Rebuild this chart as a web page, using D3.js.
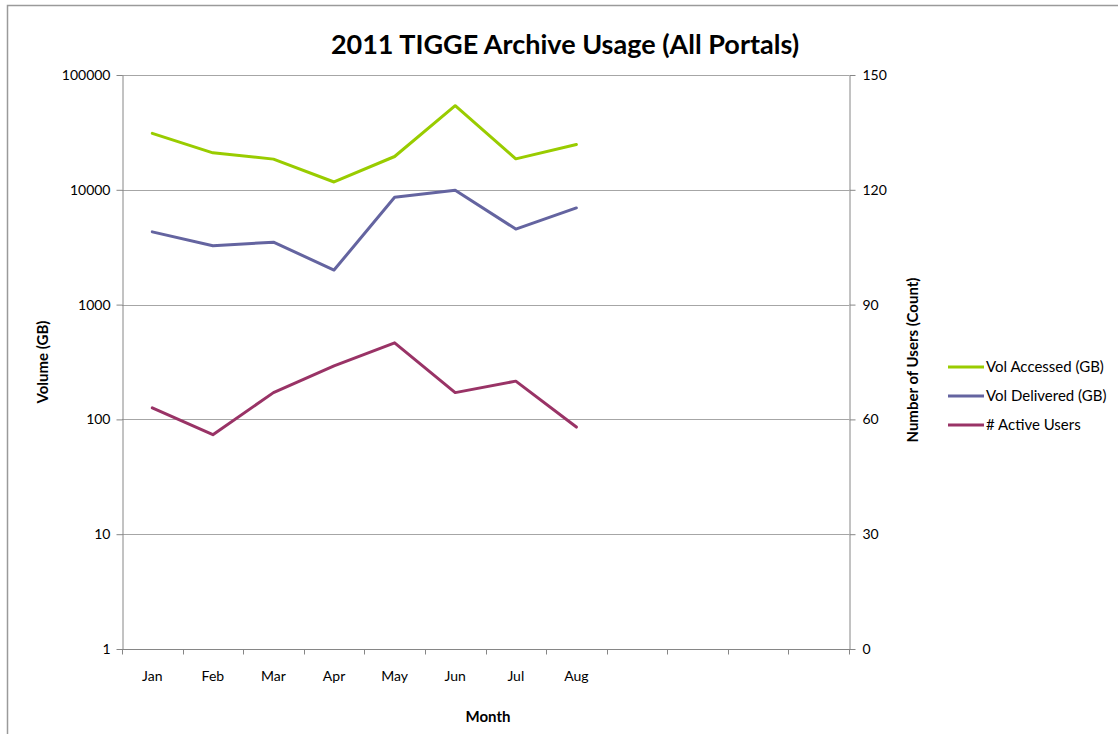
<!DOCTYPE html>
<html><head><meta charset="utf-8">
<script src="https://cdn.jsdelivr.net/npm/d3@7"></script>
<style>body{margin:0;background:#fff;} svg{display:block;} text{font-family:Lato,"Liberation Sans",sans-serif;fill:#000;}</style>
</head><body>
<svg id="c" width="1118" height="734"></svg>
<script>
const months = ["Jan","Feb","Mar","Apr","May","Jun","Jul","Aug","Sep","Oct","Nov","Dec"];
const monthLabels = ["Jan","Feb","Mar","Apr","May","Jun","Jul","Aug","","","",""];
const volAccessed = [31000, 21000, 18500, 11700, 19500, 54000, 18600, 24800];
const volDelivered = [4300, 3250, 3500, 2000, 8600, 9900, 4550, 6950];
const activeUsers = [63, 56, 67, 74, 80, 67, 70, 58];
const leftTicks = [1, 10, 100, 1000, 10000, 100000];
const rightTicks = [0, 30, 60, 90, 120, 150];
const seriesNames = ["Vol Accessed (GB)", "Vol Delivered (GB)", "# Active Users"];
const seriesColors = ["#99CC00", "#6464A0", "#993366"];

const svg = d3.select("#c");
const L = 122, R = 849, T = 75, B = 649;

// outer border
svg.append("path").attr("d", "M7.5,740 V5.5 H1130").attr("fill","none").attr("stroke","#9a9a9a").attr("stroke-width",1.5);

const x = d3.scaleBand().domain(months).range([L, R]).padding(0);
const yL = d3.scaleLog().domain([1, 100000]).range([B, T]);
const yR = d3.scaleLinear().domain([0, 150]).range([B, T]);

// gridlines
svg.append("g").selectAll("line").data(leftTicks.slice(1)).join("line")
  .attr("x1", L).attr("x2", R).attr("y1", d => Math.round(yL(d)) + 0.5).attr("y2", d => Math.round(yL(d)) + 0.5)
  .attr("stroke", "#a6a6a6").attr("stroke-width", 1);

// left axis
const gl = svg.append("g").attr("transform", `translate(${L+0.5},0)`)
  .call(d3.axisLeft(yL).tickValues(leftTicks).tickFormat(d3.format("d")).tickSize(6).tickSizeOuter(0));
// right axis
const gr = svg.append("g").attr("transform", `translate(${R+0.5},0)`)
  .call(d3.axisRight(yR).tickValues(rightTicks).tickSize(6).tickSizeOuter(0));
// bottom axis
const gb = svg.append("g").attr("transform", `translate(0,${B+0.5})`);
gb.append("line").attr("x1", L).attr("x2", R+6).attr("stroke", "#868686");
gb.selectAll("line.t").data(d3.range(13)).join("line").attr("class","t")
  .attr("x1", i => Math.round(L + i * x.step()) + 0.5).attr("x2", i => Math.round(L + i * x.step()) + 0.5)
  .attr("y1", 0).attr("y2", 5).attr("stroke", "#868686");
gb.selectAll("text").data(months).join("text")
  .attr("x", d => x(d) + x.bandwidth()/2).attr("y", 31)
  .attr("text-anchor", "middle").attr("font-size", 14)
  .text((d, i) => monthLabels[i]);

[gl, gr].forEach(g => {
  g.select(".domain").attr("stroke", "#868686");
  g.selectAll(".tick line").attr("stroke", "#868686");
  g.selectAll(".tick text").attr("font-size", 14).attr("font-family", "Lato, sans-serif").attr("fill", "#000");
});
gl.selectAll(".tick text").attr("x", -12);
gr.selectAll(".tick text").attr("x", 13);

// lines
const line = (yScale) => d3.line().x((d, i) => x(months[i]) + x.bandwidth()/2).y(d => yScale(d));
const plots = [[volAccessed, yL], [volDelivered, yL], [activeUsers, yR]];
plots.forEach(([data, sc], i) => {
  svg.append("path").datum(data).attr("d", line(sc))
    .attr("fill", "none").attr("stroke", seriesColors[i]).attr("stroke-width", 3)
    .attr("stroke-linejoin", "round").attr("stroke-linecap", "round");
});

// titles
svg.append("text").attr("x", 565).attr("y", 54).attr("text-anchor", "middle")
  .attr("font-size", 27).attr("font-weight", "bold").text("2011 TIGGE Archive Usage (All Portals)");
svg.append("text").attr("transform", "translate(48,362) rotate(-90)").attr("text-anchor", "middle")
  .attr("font-size", 15).attr("font-weight", "bold").text("Volume (GB)");
svg.append("text").attr("transform", "translate(918,360) rotate(-90)").attr("text-anchor", "middle")
  .attr("font-size", 15).attr("font-weight", "bold").text("Number of Users (Count)");
svg.append("text").attr("x", 488).attr("y", 722).attr("text-anchor", "middle")
  .attr("font-size", 15).attr("font-weight", "bold").text("Month");

// legend
const lg = svg.append("g").selectAll("g").data(seriesNames).join("g")
  .attr("transform", (d, i) => `translate(948,${367 + i * 29})`);
lg.append("line").attr("x1", 0).attr("x2", 36).attr("stroke", (d, i) => seriesColors[i]).attr("stroke-width", 3);
lg.append("text").attr("x", 38).attr("y", 5).attr("font-size", 15).text(d => d);
</script>
</body></html>
